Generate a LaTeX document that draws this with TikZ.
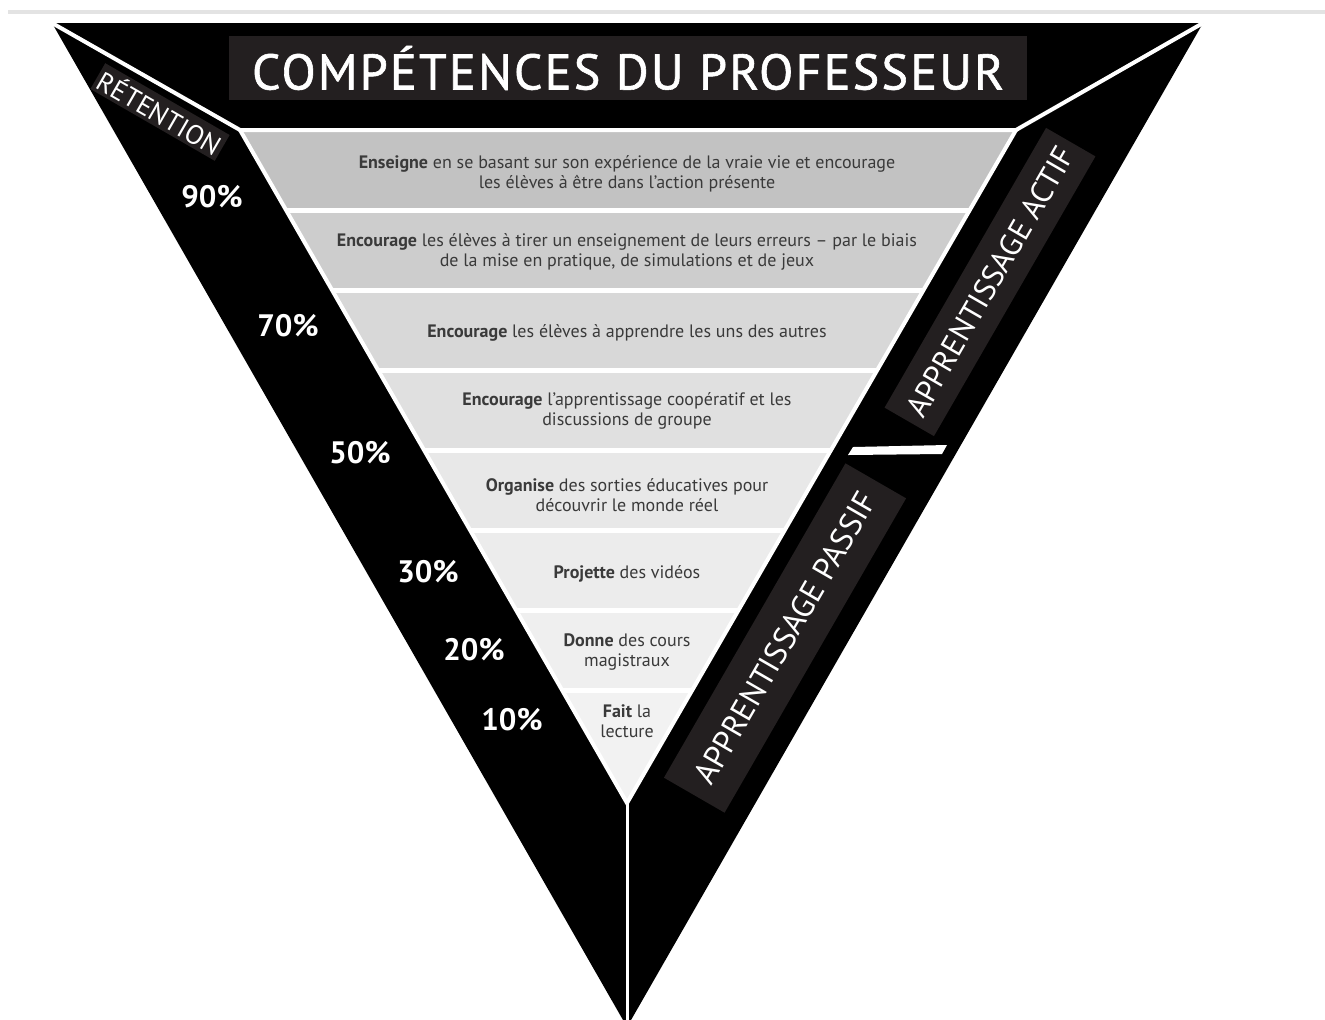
\documentclass[tikz,border=0pt]{standalone}
\usepackage{fontspec}
\setmainfont{PT Sans}
\usepackage{tikz}
\usetikzlibrary{positioning}
\definecolor{fondtitre}{HTML}{231F20}
\definecolor{texte}{HTML}{3A3A3A}
\definecolor{ga}{HTML}{C2C2C2}
\definecolor{gb}{HTML}{CDCDCD}
\definecolor{gc}{HTML}{D8D8D8}
\definecolor{gd}{HTML}{E0E0E0}
\definecolor{ge}{HTML}{E8E8E8}
\definecolor{gf}{HTML}{ECECEC}
\definecolor{gg}{HTML}{EFEFEF}
\definecolor{gh}{HTML}{F2F2F2}

\begin{document}
\begin{tikzpicture}[x=0.5pt,y=-0.5pt,
		bande/.style={align=center,text=texte,font=\fontsize{9}{10}\selectfont},
		pct/.style={text=white,font=\fontsize{15.5}{16}\selectfont\bfseries},
		etiq/.style={fill=fondtitre,text=white,font=\fontsize{16}{16}\selectfont},
		blanc/.style={draw=white,line width=2pt},
		sep/.style={draw=white,line width=2.5pt}]
		\useasboundingbox (0,0) rectangle (1325,1019);
		\clip (0,0) rectangle (1325,1019);
		\draw[gray!22,line width=2pt] (8,12) -- (1325,12);
		\coordinate (HG) at (52,23);
		\coordinate (HD) at (1203,23);
		\coordinate (B) at (627,1027);
		\coordinate (FG) at (240,130);
		\coordinate (FD) at (1016,130);
		\coordinate (FB) at (627,803);
		\fill (HG) -- (HD) -- (B) -- cycle;
		\begin{scope}
			\clip (FG) -- (FD) -- (FB) -- cycle;
			\fill[ga] (0,130) rectangle (1325,210);
			\fill[gb] (0,210) rectangle (1325,290);
			\fill[gc] (0,290) rectangle (1325,370);
			\fill[gd] (0,370) rectangle (1325,450);
			\fill[ge] (0,450) rectangle (1325,530);
			\fill[gf] (0,530) rectangle (1325,610);
			\fill[gg] (0,610) rectangle (1325,690);
			\fill[gh] (0,690) rectangle (1325,810);
			\path[sep]
				(0,210) -- (1325,210)
				(0,290) -- (1325,290)
				(0,370) -- (1325,370)
				(0,450) -- (1325,450)
				(0,530) -- (1325,530)
				(0,610) -- (1325,610)
				(0,690) -- (1325,690);
		\end{scope}
		\draw[blanc] (HG) -- (FG) -- (FD) -- (HD);
		\draw[blanc] (FG) -- (FB) -- (FD);
		\draw[white,line width=1.5pt] (FB) -- (B);
		\fill[white] (853,447) -- (947,445) -- (942,454) -- (848,455) -- cycle;
		\node[fill=fondtitre,text=white,minimum width=399pt,minimum height=32pt,font=\fontsize{25}{26}\selectfont\addfontfeature{LetterSpace=4.5,FakeBold=1.2}] (titre) at (628,68) {COMPÉTENCES DU PROFESSEUR};
		\node[etiq,rotate=-30,font=\fontsize{13.5}{14}\selectfont,inner sep=1.5pt] (ret) at (160,112) {RÉTENTION};
		\node[etiq,rotate=60,minimum width=161.5pt,minimum height=28.5pt,font=\fontsize{15.5}{16}\selectfont] (actif) at (990,282) {APPRENTISSAGE ACTIF};
		\node[etiq,rotate=60,minimum width=181.5pt,minimum height=35pt] (passif) at (785,638) {APPRENTISSAGE PASSIF};
		\node[pct] (p90) at (212,197) {90\%};
		\node[pct] (p70) at (288,326) {70\%};
		\node[pct] (p50) at (360,453) {50\%};
		\node[pct] (p30) at (428,572) {30\%};
		\node[pct] (p20) at (474,650) {20\%};
		\node[pct] (p10) at (512,720) {10\%};
		\node[bande] (b1) at (627,174) {\textbf{Enseigne} en se basant sur son expérience de la vraie vie et encourage\\les élèves à être dans l'action présente};
		\node[bande] (b2) at (627,252) {\textbf{Encourage} les élèves à tirer un enseignement de leurs erreurs -- par le biais\\de la mise en pratique, de simulations et de jeux};
		\node[bande] (b3) at (627,333) {\textbf{Encourage} les élèves à apprendre les uns des autres};
		\node[bande] (b4) at (627,411) {\textbf{Encourage} l’apprentissage coopératif et les\\discussions de groupe};
		\node[bande] (b5) at (627,495) {\textbf{Organise} des sorties éducatives pour\\découvrir le monde réel};
		\node[bande] (b6) at (627,574) {\textbf{Projette} des vidéos};
		\node[bande] (b7) at (627,652) {\textbf{Donne} des cours\\magistraux};
		\node[bande] (b8) at (627,721) {\textbf{Fait} la\\lecture};
	\end{tikzpicture}
\end{document}
